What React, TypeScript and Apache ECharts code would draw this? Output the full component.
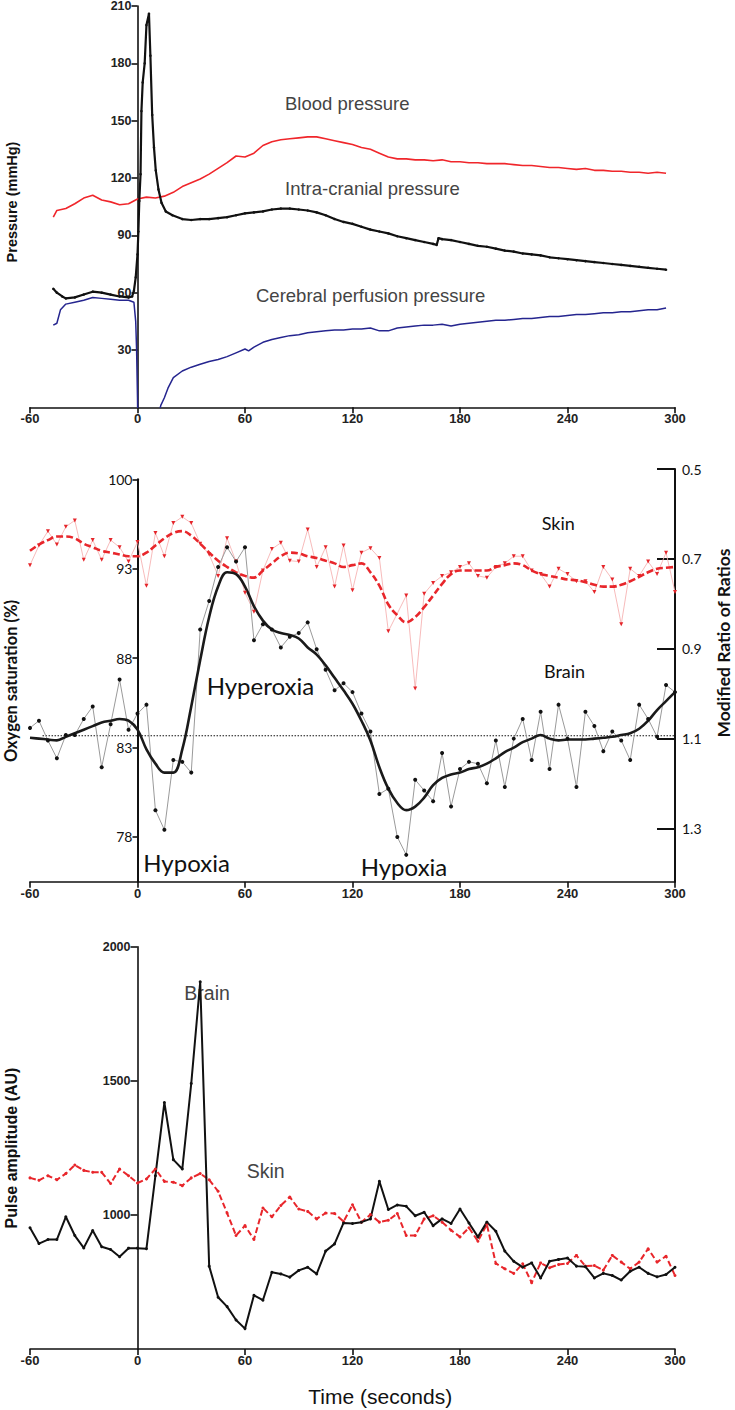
import React, { useEffect, useRef } from "react";
import * as echarts from "echarts";

// ---------- Panel 1: pressures (mmHg) ----------
const bpTimes = [-47, -45, -40, -35, -30, -25, -20, -15, -10, -5, 0, 5, 10, 15, 20, 25, 30, 35, 40, 45, 50, 55, 60, 65, 70, 75, 80, 85, 90, 95, 100, 105, 110, 115, 120, 125, 130, 135, 140, 145, 150, 155, 160, 165, 170, 175, 180, 185, 190, 195, 200, 205, 210, 215, 220, 225, 230, 235, 240, 245, 250, 255, 260, 265, 270, 275, 280, 285, 290, 295];
const bpValues = [99.5, 103, 104, 106.5, 109.5, 111, 108.5, 107.5, 106, 106.5, 109, 110, 109.5, 110.5, 112.5, 115.5, 117.5, 119.5, 122, 125, 128, 131.5, 131, 133, 137, 139, 140, 140.5, 141, 141.5, 141.5, 140.5, 139.5, 138.5, 137.5, 136, 135, 133, 131, 130, 130, 129.5, 129.5, 129, 129.5, 128.5, 128.5, 128, 128, 127.5, 127.5, 127.5, 127, 126.5, 126.5, 126, 125.5, 125.5, 125, 124.5, 125, 124, 124, 123.5, 123.5, 123, 123, 122.5, 123, 122.5];

const icpTimes = [-47, -45, -42, -40, -35, -30, -25, -20, -15, -10, -5, -3, -2, -1, 0, 0.5, 1, 1.7, 2.2, 2.9, 4, 5, 6.4, 7.2, 8.2, 9.2, 10.2, 11.7, 13.4, 15.8, 19.5, 25, 30, 35, 40, 45, 50, 55, 60, 65, 70, 75, 80, 85, 90, 95, 100, 105, 110, 115, 120, 125, 130, 135, 140, 145, 150, 155, 160, 165, 167, 168, 170, 175, 180, 185, 190, 195, 200, 205, 210, 215, 220, 225, 230, 235, 240, 245, 250, 255, 260, 265, 270, 275, 280, 285, 290, 295];
const icpValues = [62, 60, 58, 57, 57.5, 59, 60.5, 60, 59, 58, 57.5, 58, 61, 68, 80, 92, 108, 122, 155, 170, 180, 200, 206, 184, 153, 136, 124, 114, 107, 102.5, 100.5, 98.5, 98, 98.5, 98.5, 99, 99.5, 100.5, 101.5, 102, 102.5, 103.5, 104, 104, 103.5, 103, 102, 100.5, 98.5, 97, 96, 94.5, 93, 92, 91, 89.5, 88.5, 87.5, 86.5, 85.5, 85, 88.5, 88, 87.5, 86.5, 85.5, 84.5, 84, 83, 82, 81.5, 80.5, 80, 79.5, 78.5, 78, 77.5, 77, 76.5, 76, 75.5, 75, 74.5, 74, 73.5, 73, 72.5, 72];

const cppTimes = [-47, -45, -43, -40, -35, -30, -25, -20, -15, -10, -5, -2, -1, -0.5, 0, 0.5, 12, 13, 15, 17, 20, 25, 30, 35, 40, 45, 50, 55, 60, 62, 65, 70, 75, 80, 85, 90, 95, 100, 105, 110, 115, 120, 125, 130, 135, 140, 145, 150, 155, 160, 165, 170, 175, 180, 185, 190, 195, 200, 205, 210, 215, 220, 225, 230, 235, 240, 245, 250, 255, 260, 265, 270, 275, 280, 285, 290, 295];
const cppValues = [43, 44, 51, 54, 55, 56, 57.5, 57, 56.5, 56, 56, 55, 45, 30, 5, -30, -3, 1, 5, 10, 15.5, 19, 21, 22.5, 24, 25, 26.5, 28.5, 30.5, 29.5, 31.5, 34, 35.5, 36.5, 37.5, 38, 39, 39.5, 40, 40.5, 40.5, 41, 41, 41.5, 40, 40, 41.5, 42, 42.5, 43, 43, 43.5, 42.5, 43.5, 44, 44.5, 45, 45.5, 45.5, 46, 46.5, 46.5, 47, 47.5, 47.5, 48, 48.5, 48.5, 49, 49.5, 49.5, 50, 50, 50.5, 51, 51, 52];

// ---------- Panels 2 & 3 share 5-second sampling ----------
const sampleTimes = [-60, -55, -50, -45, -40, -35, -30, -25, -20, -15, -10, -5, 0, 5, 10, 15, 20, 25, 30, 35, 40, 45, 50, 55, 60, 65, 70, 75, 80, 85, 90, 95, 100, 105, 110, 115, 120, 125, 130, 135, 140, 145, 150, 155, 160, 165, 170, 175, 180, 185, 190, 195, 200, 205, 210, 215, 220, 225, 230, 235, 240, 245, 250, 255, 260, 265, 270, 275, 280, 285, 290, 295, 300];

// Panel 2: oxygen saturation (%)
const brainRaw = [84.1, 84.5, 83.4, 82.4, 83.7, 83.7, 84.6, 85.3, 81.9, 84.3, 86.8, 84.0, 84.9, 85.4, 79.5, 78.4, 82.3, 82.2, 81.6, 89.6, 91.2, 93.1, 94.2, 93.4, 94.2, 89.0, 89.9, 89.6, 88.6, 89.2, 89.4, 90.0, 88.5, 87.35, 86.2, 86.6, 86.1, 84.9, 83.9, 80.4, 80.7, 78.0, 77.0, 81.2, 80.6, 80.0, 82.7, 79.7, 81.8, 82.2, 82.1, 81.0, 83.4, 80.8, 83.5, 84.6, 82.3, 85.0, 81.8, 85.4, 83.5, 80.8, 85.0, 84.2, 82.8, 83.9, 83.4, 82.3, 85.4, 84.6, 83.6, 86.5, 86.1];
const brainSmooth = [83.55, 83.5, 83.45, 83.4, 83.6, 83.8, 84.0, 84.2, 84.4, 84.5, 84.6, 84.5, 84.0, 82.9, 82.1, 81.6, 81.6, 82.9, 85.3, 87.9, 90.3, 92.0, 92.8, 92.7, 92.0, 90.9, 90.1, 89.6, 89.4, 89.3, 89.1, 88.6, 88.2, 87.6, 86.9, 86.2, 85.45, 84.5, 83.4, 81.9, 80.7, 79.9, 79.5, 79.7, 80.2, 80.9, 81.3, 81.5, 81.6, 81.8, 81.9, 82.1, 82.4, 82.75, 83.0, 83.3, 83.5, 83.7, 83.5, 83.4, 83.45, 83.45, 83.45, 83.5, 83.55, 83.6, 83.7, 83.8, 84.05, 84.5, 85.1, 85.6, 86.1];
const skinRaw = [93.2, 94.3, 95.1, 94.35, 95.35, 95.7, 93.5, 94.6, 93.5, 94.6, 94.2, 93.4, 94.5, 92.05, 95.0, 93.7, 95.55, 95.9, 95.55, 94.4, 93.8, 92.6, 94.7, 93.4, 91.65, 90.6, 92.9, 94.1, 94.45, 93.45, 93.4, 95.2, 93.1, 94.2, 92.0, 94.3, 91.8, 93.9, 94.15, 93.6, 89.5, null, 91.5, 86.3, 91.6, 92.2, 92.6, 92.8, 93.1, 93.3, 92.6, 92.5, 93.1, 93.3, 93.7, 93.7, 92.9, 92.7, 92.0, 93.0, 92.7, 92.3, 92.3, 91.7, 93.1, 92.4, 89.9, 93.0, 92.6, 93.4, 92.7, 93.9, 91.7];
const skinSmooth = [94.0, 94.35, 94.6, 94.8, 94.8, 94.7, 94.4, 94.2, 94.0, 93.9, 93.8, 93.7, 93.7, 93.9, 94.3, 94.7, 95.0, 95.1, 94.85, 94.4, 93.9, 93.45, 93.1, 92.8, 92.6, 92.5, 92.9, 93.3, 93.7, 93.9, 93.85, 93.7, 93.6, 93.45, 93.3, 93.1, 93.2, 93.3, 92.8, 92.05, 91.0, 90.4, 90.0, 90.3, 90.85, 91.5, 92.15, 92.7, 92.9, 92.9, 92.9, 92.9, 93.1, 93.2, 93.3, 93.2, 92.9, 92.7, 92.6, 92.5, 92.4, 92.35, 92.25, 92.1, 92.0, 92.0, 92.1, 92.3, 92.55, 92.8, 93.0, 93.05, 93.1];
const baselineSat = 83.66;
const baselineStart = -53;
const satTickValues = [78, 83, 88, 93, 98];
const satTickLabels = ["78", "83", "88", "93", "100"];
const ratioTickValues = [0.5, 0.7, 0.9, 1.1, 1.3];

// Panel 3: pulse amplitude (AU)
const pulseBrain = [952, 893, 908, 908, 993, 923, 877, 942, 881, 871, 844, 876, 876, 874, 1146, 1419, 1206, 1171, 1490, 1869, 809, 693, 658, 608, 576, 700, 682, 786, 780, 768, 793, 805, 780, 865, 892, 970, 968, 973, 985, 1125, 1020, 1037, 1032, 997, 1010, 960, 985, 968, 1022, 970, 918, 973, 939, 865, 827, 805, 821, 765, 827, 834, 839, 809, 807, 765, 782, 774, 757, 790, 805, 782, 769, 778, 805];
const pulseSkin = [1138, 1129, 1146, 1131, 1154, 1186, 1166, 1159, 1159, 1117, 1171, 1146, 1119, 1134, 1171, 1125, 1122, 1109, 1138, 1154, 1131, 1088, 1007, 923, 960, 908, 1026, 993, 1035, 1067, 1022, 1013, 985, 1007, 1005, 975, 1038, 973, 1001, 973, 980, 1005, 923, 923, 985, 997, 973, 943, 918, 952, 902, 964, 819, 799, 782, 818, 747, 821, 803, 815, 819, 849, 809, 811, 794, 849, 824, 799, 824, 874, 824, 846, 774];

const ARIAL = "'Liberation Sans', Arial, Helvetica, sans-serif";
const CAL = "Lato, 'Open Sans', sans-serif";

const GRID_LEFT = 30;
const GRID_W = 645;
// y axes sit at t = 0, i.e. 60 s (of 360 s) to the right of the grid's left edge
const ZERO_OFFSET = -(GRID_W * 60) / 360;

function zip(ts: number[], vs: (number | null)[]) {
  const n = Math.min(ts.length, vs.length);
  const out: any[] = [];
  for (let i = 0; i < n; i++) out.push([ts[i], vs[i]]);
  return out;
}

const axisLineStyle = { color: "#111", width: 1.6 };

function timeAxis(gridIndex: number, show = true) {
  return {
    type: "value",
    gridIndex,
    show,
    min: -60,
    max: 300,
    interval: 60,
    axisLine: { show: true, onZero: false, lineStyle: axisLineStyle },
    axisTick: { show: true, length: 6, lineStyle: axisLineStyle },
    axisLabel: { fontFamily: ARIAL, fontWeight: "bold", fontSize: 13, color: "#222", margin: 5 },
    splitLine: { show: false },
  };
}

function text(t: string, x: number, y: number, font: string, fill = "#111", extra: any = {}) {
  const { align, ...rest } = extra;
  return {
    type: "text",
    x,
    y,
    silent: true,
    ...rest,
    style: { text: t, font, fill, textAlign: align || "left", textVerticalAlign: "middle" },
  };
}

export default function App() {
  const ref = useRef<HTMLDivElement>(null);
  useEffect(() => {
    if (!ref.current) return;
    const chart = echarts.init(ref.current, null, { renderer: "svg" });
    const gridBase = { left: GRID_LEFT, width: GRID_W, containLabel: false, outerBoundsMode: "none" };
    const option: any = {
      animation: false,
      backgroundColor: "#fff",
      grid: [
        { ...gridBase, top: 6, height: 401.3 },
        { ...gridBase, top: 479.3, height: 402.4 },
        { ...gridBase, top: 469, height: 412.7 },
        { ...gridBase, top: 946.7, height: 402.3 },
      ],
      xAxis: [timeAxis(0), timeAxis(1), timeAxis(2, false), timeAxis(3)],
      yAxis: [
        {
          type: "value", gridIndex: 0, min: 0, max: 210, interval: 30, offset: ZERO_OFFSET,
          axisLine: { show: true, onZero: false, lineStyle: axisLineStyle },
          axisTick: { show: true, length: 6, lineStyle: axisLineStyle },
          axisLabel: { showMinLabel: false, fontFamily: ARIAL, fontWeight: "bold", fontSize: 12.5, color: "#222", margin: 6 },
          splitLine: { show: false },
        },
        {
          type: "value", gridIndex: 1, min: 75.5, max: 98, offset: ZERO_OFFSET,
          axisLine: { show: true, onZero: false, lineStyle: { color: "#111", width: 2 } },
          axisTick: { show: true, length: 5, customValues: satTickValues, lineStyle: { color: "#111", width: 1.6 } },
          axisLabel: {
            customValues: satTickValues,
            formatter: (v: number) => {
              const i = satTickValues.indexOf(v);
              return i >= 0 ? satTickLabels[i] : "";
            },
            fontFamily: CAL, fontSize: 14, color: "#111", margin: 5,
          },
          splitLine: { show: false },
        },
        {
          type: "value", gridIndex: 2, position: "right", inverse: true, min: 0.5, max: 1.419,
          axisLine: { show: true, onZero: false, lineStyle: { color: "#111", width: 2 } },
          axisTick: { show: true, inside: true, length: 18, customValues: ratioTickValues, lineStyle: { color: "#111", width: 2 } },
          axisLabel: {
            customValues: ratioTickValues,
            formatter: (v: number) => v.toFixed(1),
            fontFamily: CAL, fontSize: 14, color: "#111", margin: 7,
          },
          splitLine: { show: false },
        },
        {
          type: "value", gridIndex: 3, min: 500, max: 2000, interval: 500, offset: ZERO_OFFSET,
          axisLine: { show: true, onZero: false, lineStyle: axisLineStyle },
          axisTick: { show: true, length: 7, lineStyle: axisLineStyle },
          axisLabel: {
            showMinLabel: false, formatter: (v: number) => String(v),
            fontFamily: ARIAL, fontWeight: "bold", fontSize: 12.5, color: "#222", margin: 7,
          },
          splitLine: { show: false },
        },
      ],
      series: [
        // Panel 1
        {
          type: "line", xAxisIndex: 0, yAxisIndex: 0, data: zip(bpTimes, bpValues),
          symbol: "none", lineStyle: { color: "#f0262b", width: 1.6 }, silent: true,
        },
        {
          type: "line", xAxisIndex: 0, yAxisIndex: 0, data: zip(cppTimes, cppValues),
          symbol: "none", lineStyle: { color: "#25258f", width: 1.5 }, silent: true,
        },
        {
          type: "line", xAxisIndex: 0, yAxisIndex: 0, data: zip(icpTimes, icpValues),
          symbol: "circle", symbolSize: 2.5, itemStyle: { color: "#111" },
          lineStyle: { color: "#111", width: 2.2 }, silent: true,
        },
        // Panel 2
        {
          type: "line", xAxisIndex: 1, yAxisIndex: 1, data: zip(sampleTimes, skinRaw), connectNulls: true,
          symbol: "triangle", symbolRotate: 180, symbolSize: 4, itemStyle: { color: "#e5252a" },
          lineStyle: { color: "#f6b3b3", width: 0.9 }, silent: true,
        },
        {
          type: "line", xAxisIndex: 1, yAxisIndex: 1, data: zip(sampleTimes, skinSmooth), smooth: 0.4,
          symbol: "none", lineStyle: { color: "#e8262b", width: 2.6, type: [7, 3] }, silent: true,
        },
        {
          type: "line", xAxisIndex: 1, yAxisIndex: 1, data: [[baselineStart, baselineSat], [300, baselineSat]],
          symbol: "none", lineStyle: { color: "#111", width: 1, type: [1.5, 1.5] }, silent: true,
        },
        {
          type: "line", xAxisIndex: 1, yAxisIndex: 1, data: zip(sampleTimes, brainRaw),
          symbol: "circle", symbolSize: 4, itemStyle: { color: "#111" },
          lineStyle: { color: "#9a9a9a", width: 1 }, silent: true,
        },
        {
          type: "line", xAxisIndex: 1, yAxisIndex: 1, data: zip(sampleTimes, brainSmooth), smooth: 0.4,
          symbol: "none", lineStyle: { color: "#1a1a1a", width: 2.6 }, silent: true,
        },
        // Panel 3
        {
          type: "line", xAxisIndex: 3, yAxisIndex: 3, data: zip(sampleTimes, pulseSkin),
          symbol: "circle", symbolSize: 3, itemStyle: { color: "#e8262b" },
          lineStyle: { color: "#e8262b", width: 2, type: [6, 3] }, silent: true,
        },
        {
          type: "line", xAxisIndex: 3, yAxisIndex: 3, data: zip(sampleTimes, pulseBrain),
          symbol: "circle", symbolSize: 3, itemStyle: { color: "#111" },
          lineStyle: { color: "#111", width: 2 }, silent: true,
        },
      ],
      graphic: [
        text("Pressure (mmHg)", 12, 202, `bold 14.5px ${ARIAL}`, "#111", { rotation: Math.PI / 2, align: "center" }),
        text("Blood pressure", 285, 103, `18.5px ${ARIAL}`, "#444"),
        text("Intra-cranial pressure", 285, 188, `18.5px ${ARIAL}`, "#444"),
        text("Cerebral perfusion pressure", 256, 295, `18.5px ${ARIAL}`, "#444"),
        text("Oxygen saturation (%)", 11, 681, `bold 16.5px ${CAL}`, "#111", { rotation: Math.PI / 2, align: "center" }),
        text("Modified Ratio of Ratios", 723, 643, `bold 17.5px ${CAL}`, "#111", { rotation: Math.PI / 2, align: "center" }),
        text("Skin", 541.7, 523, `18px ${CAL}`, "#111"),
        text("Brain", 544, 670.5, `18px ${CAL}`, "#111"),
        text("Hyperoxia", 206.7, 685, `24px ${CAL}`, "#111"),
        text("Hypoxia", 143.3, 862, `24px ${CAL}`, "#111"),
        text("Hypoxia", 360.7, 866, `24px ${CAL}`, "#111"),
        text("Pulse amplitude (AU)", 11, 1148, `bold 16px ${ARIAL}`, "#111", { rotation: Math.PI / 2, align: "center" }),
        text("Brain", 184.3, 992.5, `19.5px ${ARIAL}`, "#444"),
        text("Skin", 246.7, 1170.5, `19.5px ${ARIAL}`, "#444"),
        text("Time (seconds)", 308.3, 1396, `21px ${ARIAL}`, "#111"),
      ],
    };
    chart.setOption(option);
    return () => chart.dispose();
  }, []);
  return (
    <div
      ref={ref}
      style={{ position: "absolute", left: 0, top: 0, width: 735, height: 1410, background: "#fff" }}
    />
  );
}
